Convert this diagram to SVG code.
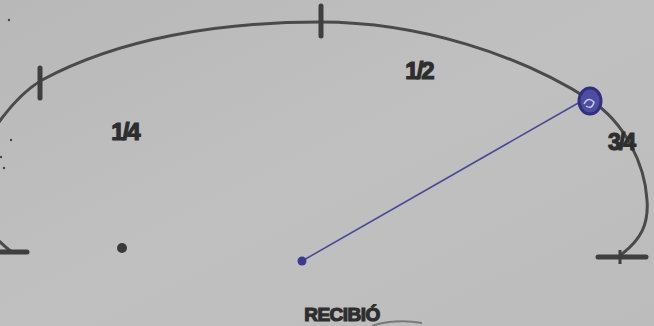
<svg xmlns="http://www.w3.org/2000/svg" width="654" height="326" viewBox="0 0 654 326">
<defs>
<linearGradient id="paper" x1="0" y1="0" x2="1" y2="1">
<stop offset="0" stop-color="#b8b8b8"/>
<stop offset="0.5" stop-color="#c0c0c0"/>
<stop offset="1" stop-color="#bcbcbc"/>
</linearGradient>
<style>
.arc{fill:none;stroke:#4a4a4a;stroke-width:3;stroke-linecap:round}
.tick{fill:none;stroke:#3f3f3f;stroke-width:5;stroke-linecap:round}
.lbl{font-family:"Liberation Sans",Arial,sans-serif;font-weight:bold;fill:#2e2e2e;text-anchor:middle;stroke:#2e2e2e;stroke-width:1.2}
.speck{fill:#444}
</style>
</defs>
<rect width="654" height="326" fill="url(#paper)"/>
<g id="connectors">
<path class="arc" d="M -8,132 C 10,105 25,90 42,80 C 120,38 220,22 320,22 C 420,22 520,55 590,100 C 625,122 645,165 647,200 C 649,225 640,240 622,254"/>
<path class="arc" d="M -4,238 C 2,244 6,248 12,252"/>
<path d="M 302,261 L 580,102" fill="none" stroke="#4a4a96" stroke-width="1.6"/>
<path d="M 372,326 C 385,321 405,320 422,323" fill="none" stroke="#7a7a7a" stroke-width="2"/>
</g>
<g id="tick-left-top"><line class="tick" x1="40" y1="68" x2="40" y2="98"/></g>
<g id="tick-top"><line class="tick" x1="321" y1="6" x2="321" y2="36"/></g>
<g id="tick-right-bottom"><line class="tick" x1="598" y1="257" x2="646" y2="257"/><line x1="620" y1="250" x2="620" y2="264" stroke="#3f3f3f" stroke-width="3"/></g>
<g id="tick-left-bottom"><line class="tick" x1="0" y1="252" x2="27" y2="252"/></g>
<g id="marker-blue"><ellipse cx="590" cy="101" rx="11" ry="13" fill="#4e4ea0" stroke="#30307e" stroke-width="3"/><path d="M584,104 q4,-8 10,-2 q-2,8 -8,4" fill="none" stroke="#c8c8dc" stroke-width="1.5"/></g>
<g id="center-dot"><circle cx="302" cy="261" r="4.5" fill="#3a3a90"/></g>
<g id="dot"><circle cx="122" cy="248" r="5" fill="#3a3a3a"/></g>
<g id="specks">
<circle class="speck" cx="9" cy="20" r="1.2"/>
<circle class="speck" cx="11" cy="140" r="1.2"/>
<circle class="speck" cx="1" cy="157" r="1.2"/>
<circle class="speck" cx="4" cy="168" r="1.2"/>
</g>
<g id="label-half"><text class="lbl" x="419" y="79" font-size="24" letter-spacing="-2">1/2</text></g>
<g id="label-quarter"><text class="lbl" x="125" y="140" font-size="24" letter-spacing="-2">1/4</text></g>
<g id="label-three-quarter"><text class="lbl" x="621" y="150" font-size="23" letter-spacing="-2">3/4</text></g>
<g id="label-recibio"><text class="lbl" x="342" y="321" font-size="19" letter-spacing="-0.5">RECIBIÓ</text></g>
</svg>
